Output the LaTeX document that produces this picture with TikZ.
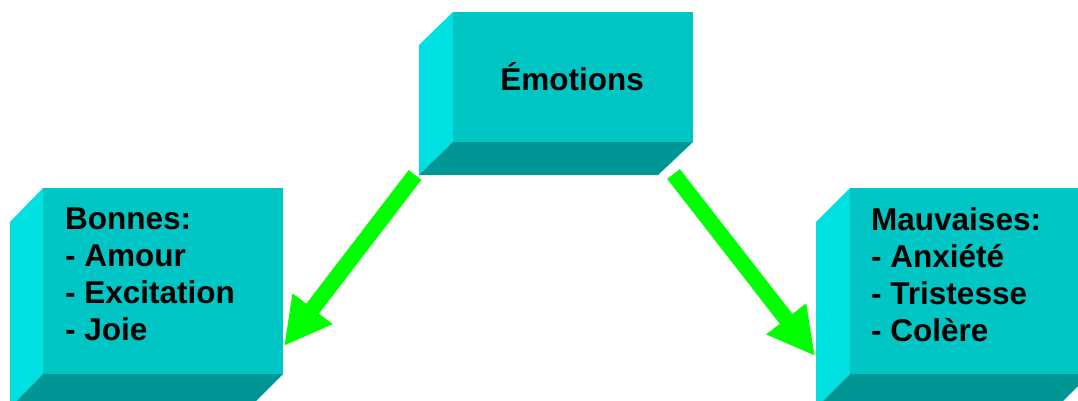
\documentclass[tikz,border=0pt]{standalone}
\usepackage{fontspec}
\setmainfont{Liberation Sans}
\usetikzlibrary{arrows.meta}
\definecolor{frontc}{RGB}{0,197,197}
\definecolor{sidec}{RGB}{0,224,224}
\definecolor{bottomc}{RGB}{0,150,150}
\definecolor{arrowc}{RGB}{0,255,0}
\tikzset{
  front/.style={fill=frontc, draw=none},
  side/.style={fill=sidec, draw=none},
  bottom/.style={fill=bottomc, draw=none},
  lbl/.style={inner sep=0pt, font=\bfseries\fontsize{31.5}{37}\selectfont, align=left},
  bigarrow/.style={draw=arrowc, line width=16pt, -{Triangle[width=47pt,length=47pt]}, arrowc}
}
\begin{document}
\begin{tikzpicture}[x=1pt,y=-1pt]
\useasboundingbox (0,0) rectangle (1078,400);
\clip (0,0) rectangle (1078,400);
% top box
\fill[side] (453,12) -- (419,45) -- (419,175) -- (453,142) -- cycle;
\fill[bottom] (453,142) -- (693,142) -- (658,175) -- (419,175) -- cycle;
\node[front, minimum width=240pt, minimum height=130pt, inner sep=0pt, anchor=north west] (emo) at (453,12) {};
\node[lbl, anchor=base] (emot) at (572,90) {Émotions};
% left box
\fill[side] (43,188) -- (10,222) -- (10,408) -- (43,374) -- cycle;
\fill[bottom] (43,374) -- (283,374) -- (249,408) -- (10,408) -- cycle;
\node[front, minimum width=240pt, minimum height=186pt, inner sep=0pt, anchor=north west] (bon) at (43,188) {};
\node[lbl, anchor=north west] (bont) at (65,207.5) {Bonnes:\\- Amour\\- Excitation\\- Joie};
% right box
\fill[side] (850,188) -- (816,222) -- (816,408) -- (850,374) -- cycle;
\fill[bottom] (850,374) -- (1090,374) -- (1056,408) -- (816,408) -- cycle;
\node[front, minimum width=240pt, minimum height=186pt, inner sep=0pt, anchor=north west] (mau) at (850,188) {};
\node[lbl, anchor=north west] (maut) at (871,207.5) {Mauvaises:\\- Anxiété\\- Tristesse\\- Colère};
% arrows
\coordinate (l1) at (415,175);
\coordinate (l2) at (284,346);
\coordinate (r1) at (673.5,174);
\coordinate (r2) at (815,356);
\draw[bigarrow] (l1) -- (l2);
\draw[bigarrow] (r1) -- (r2);
\end{tikzpicture}
\end{document}
